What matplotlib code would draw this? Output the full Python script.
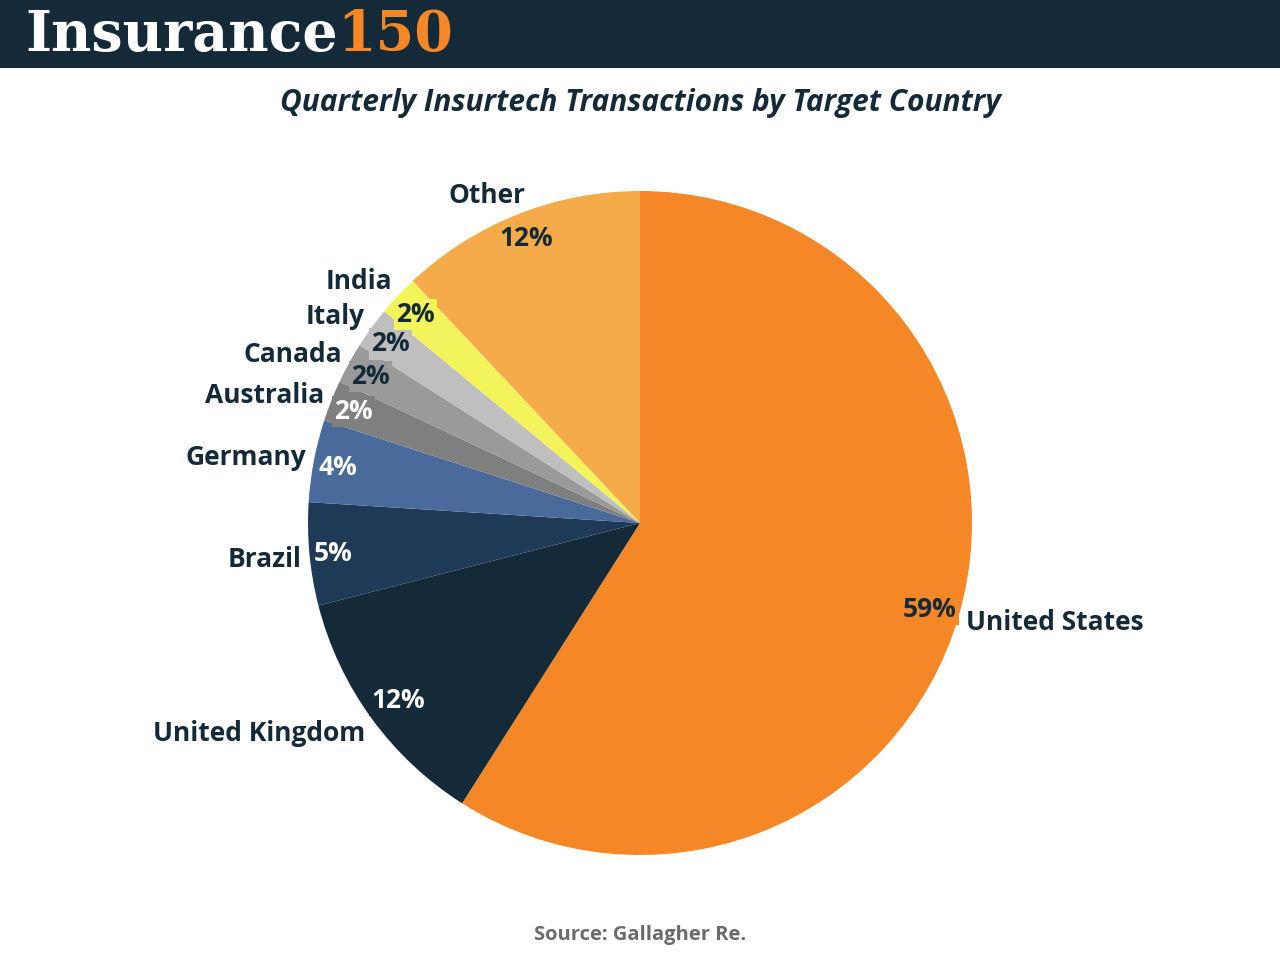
import numpy as np
import matplotlib
matplotlib.use("Agg")
import matplotlib.pyplot as plt
from matplotlib.patches import Rectangle

countries = ["United States", "United Kingdom", "Brazil", "Germany", "Australia",
             "Canada", "Italy", "India", "Other"]
shares = [59, 12, 5, 4, 2, 2, 2, 2, 12]
colors = ["#f58726", "#142a38", "#1e3a56", "#4a6a9c", "#7f7f7f",
          "#9a9a9a", "#bfbfbf", "#f3f35c", "#f5ab4a"]
pct_colors = ["#142a38", "white", "white", "white", "white",
              "#142a38", "#142a38", "#142a38", "#142a38"]
title = "Quarterly Insurtech Transactions by Target Country"
source = "Source: Gallagher Re."

W, H = 1280, 960
fig = plt.figure(figsize=(W / 100, H / 100), dpi=100)
ax = fig.add_axes([0, 0, 1, 1])

cx, cy, R = 640, H - 523, 332
wedges, _ = ax.pie(shares, colors=colors, startangle=90, counterclock=False,
                   radius=R, center=(cx, cy), frame=True,
                   wedgeprops=dict(linewidth=0))
ax.set_xlim(0, W)
ax.set_ylim(0, H)
ax.set_aspect("equal")
ax.axis("off")

lab_font = dict(family=["Open Sans", "DejaVu Sans"], fontweight="bold", fontsize=19)
for w, name, val, col, pc in zip(wedges, countries, shares, colors, pct_colors):
    mid = np.deg2rad((w.theta1 + w.theta2) / 2)
    left = np.cos(mid) < 0
    rp = 308 if left else 302
    if name == "United Kingdom":
        rp = 299
    px, py = cx + rp * np.cos(mid), cy + rp * np.sin(mid) - 2
    ax.text(px, py, f"{val}%", ha="center", va="center", color=pc,
            bbox=dict(boxstyle="square,pad=0.08", fc=col, ec="none"), **lab_font)
    if name == "Other":
        rl = 362
        lx, ly = cx + rl * np.cos(mid + 0.06), cy + rl * np.sin(mid + 0.06)
        ha = "center"
    else:
        rl = 340
        lx, ly = cx + rl * np.cos(mid), cy + rl * np.sin(mid)
        ha = "right" if left else "left"
        if left and np.sin(mid) > 0:
            ly += 2 + max(0.0, 20 * (np.sin(mid) - 0.35))
        elif name == "United Kingdom":
            ly -= 11
        else:
            ly -= 5
    ax.text(lx, ly, name, ha=ha, va="center", color="#142a38", **lab_font)

# header bar
ax.add_patch(Rectangle((0, H - 68), W, 68, facecolor="#142a38", edgecolor="none"))
hfont = dict(family=["DejaVu Serif"], fontweight="bold", fontsize=40)
t1 = ax.text(25, H - 35, "Insurance", ha="left", va="center", color="white", **hfont)
fig.canvas.draw()
bb = t1.get_window_extent()
ax.text(bb.x1, H - 35, "150", ha="left", va="center", color="#f58726", **hfont)

ax.text(640, H - 103, title, ha="center", va="center", color="#142a38",
        family=["Open Sans", "DejaVu Sans"], fontweight="bold", style="italic", fontsize=21.5)
ax.text(640, H - 935, source, ha="center", va="center", color="#6b6b6b",
        family=["Open Sans", "DejaVu Sans"], fontweight="bold", fontsize=14.5)

fig.savefig("out.png", dpi=100)
